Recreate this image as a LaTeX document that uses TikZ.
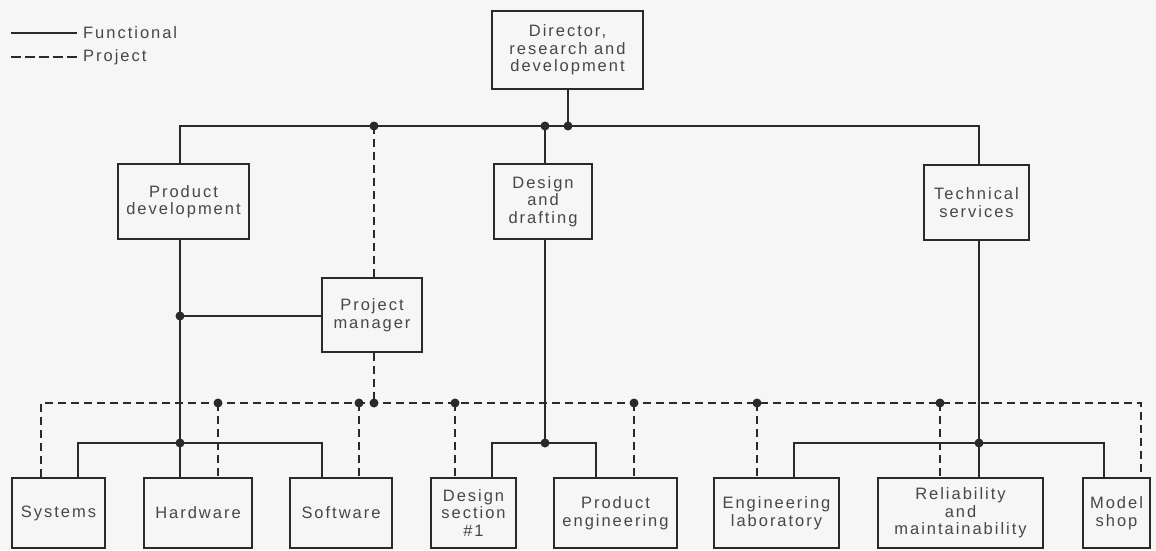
\documentclass[tikz,border=0pt]{standalone}
\usepackage{fontspec}
\setmainfont{Liberation Sans}[LetterSpace=12]
\definecolor{bgc}{HTML}{F6F6F6}
\definecolor{linec}{HTML}{2A2A2A}
\definecolor{txtc}{HTML}{474747}
\begin{document}
\begin{tikzpicture}[x=1pt,y=-1pt,
  box/.style={draw=linec, line width=2.8pt, align=center, inner sep=0pt, text=txtc, font=\fontsize{16.5}{17.5}\selectfont},
  lg/.style={inner sep=0pt, text=txtc, font=\fontsize{16.5}{17.5}\selectfont, anchor=west},
  fn/.style={draw=linec, line width=1.7pt},
  pj/.style={draw=linec, line width=2pt, dash pattern=on 8pt off 5pt},
  jdot/.style={fill=linec}]
\fill[bgc] (0,0) rectangle (1156,550);
\useasboundingbox (0,0) rectangle (1156,550);

% legend
\node[lg] (lf) at (83,33) {Functional};
\node[lg] (lp) at (83,57) {Project};
\coordinate (lf0) at (11,33);
\coordinate (lp0) at (11,57);
\draw[fn] (lf0) -- ([xshift=-6pt]lf.west);
\draw[pj, dash pattern=on 10pt off 4pt] (lp0) -- ([xshift=-6pt]lp.west);

% boxes
\node[box, minimum width=151pt, minimum height=78pt] (dir) at (567.5,50) {Director,\\research and\\development};
\node[box, minimum width=131pt, minimum height=75pt] (pd) at (183.5,201.5) {Product\\development};
\node[box, minimum width=98pt, minimum height=75pt] (dd) at (543,201.5) {Design\\and\\drafting};
\node[box, minimum width=105pt, minimum height=75pt] (ts) at (976.5,202.5) {Technical\\services};
\node[box, minimum width=100pt, minimum height=74pt] (pm) at (372,315) {Project\\manager};

\node[box, minimum width=93pt, minimum height=70pt] (sys) at (58.5,513) {Systems};
\node[box, minimum width=108pt, minimum height=70pt] (hw) at (198,513) {Hardware};
\node[box, minimum width=102pt, minimum height=70pt] (sw) at (341,513) {Software};
\node[box, minimum width=85pt, minimum height=70pt] (ds) at (473.5,513) {Design\\section\\\#1};
\node[box, minimum width=123pt, minimum height=70pt] (pe) at (615.5,513) {Product\\engineering};
\node[box, minimum width=125pt, minimum height=70pt] (el) at (776.5,513) {Engineering\\laboratory};
\node[box, minimum width=165pt, minimum height=70pt] (rm) at (960.5,513) {Reliability\\and\\maintainability};
\node[box, minimum width=67pt, minimum height=70pt] (ms) at (1116.5,513) {Model\\shop};

% coordinates
\coordinate (tL) at (180,126);
\coordinate (tR) at (979,126);
\coordinate (jPM) at (374,126);
\coordinate (jDD) at (545,126);
\coordinate (jDir) at (568,126);
\coordinate (jPD) at (180,316);
\coordinate (bPD) at (180,443);
\coordinate (bL1) at (78,443);
\coordinate (bR1) at (322,443);
\coordinate (bDD) at (545,443);
\coordinate (bL2) at (492,443);
\coordinate (bR2) at (596,443);
\coordinate (bTS) at (979,443);
\coordinate (bL3) at (794,443);
\coordinate (bR3) at (1104,443);
\coordinate (dL) at (41,403);
\coordinate (dR) at (1141,403);
\coordinate (dHW) at (218,403);
\coordinate (dSW) at (359,403);
\coordinate (dPM) at (374,403);
\coordinate (dDS) at (455,403);
\coordinate (dPE) at (634,403);
\coordinate (dEL) at (757,403);
\coordinate (dRM) at (940,403);

% functional lines
\draw[fn] (tL |- pd.north) -- (tL) -- (tR) -- (tR |- ts.north);
\draw[fn] (dir.south -| jDir) -- (jDir);
\draw[fn] (jDD) -- (jDD |- dd.north);
\draw[fn] (tL |- pd.south) -- (tL |- hw.north);
\draw[fn] (jPD) -- (jPD -| pm.west);
\draw[fn] (bL1 |- sys.north) -- (bL1) -- (bR1) -- (bR1 |- sw.north);
\draw[fn] (jDD |- dd.south) -- (bDD);
\draw[fn] (bL2 |- ds.north) -- (bL2) -- (bR2) -- (bR2 |- pe.north);
\draw[fn] (tR |- ts.south) -- (bTS) -- (bTS |- rm.north);
\draw[fn] (bL3 |- el.north) -- (bL3) -- (bR3) -- (bR3 |- ms.north);

% project lines
\draw[pj] (jPM) -- (jPM |- pm.north);
\draw[pj] (dPM |- pm.south) -- (dPM);
\draw[pj] (dL |- sys.north) -- (dL) -- (dR) -- (dR |- ms.north);
\foreach \c/\b in {dHW/hw, dSW/sw, dDS/ds, dPE/pe, dEL/el, dRM/rm}
  \draw[pj] (\c) -- (\c |- \b.north);

% junction dots
\foreach \c in {jPM, jDD, jDir, jPD, bPD, bDD, bTS, dHW, dSW, dPM, dDS, dPE, dEL, dRM}
  \fill[jdot] (\c) circle (4.5pt);
\end{tikzpicture}
\end{document}
